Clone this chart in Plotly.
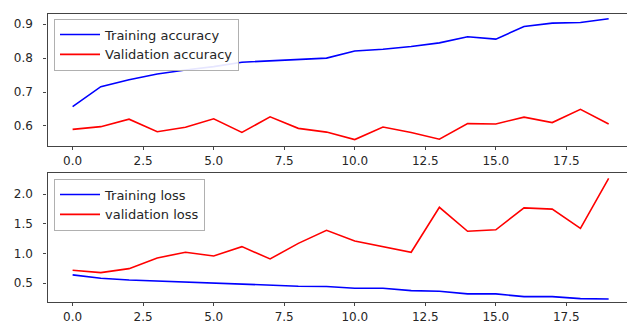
import plotly.graph_objects as go

epochs = list(range(20))
train_acc = [0.657, 0.716, 0.736, 0.753, 0.765, 0.775, 0.788, 0.792, 0.797, 0.800,
             0.821, 0.826, 0.834, 0.845, 0.863, 0.856, 0.893, 0.903, 0.905, 0.916]
val_acc = [0.590, 0.598, 0.620, 0.583, 0.596, 0.621, 0.581, 0.627, 0.593, 0.582,
           0.560, 0.597, 0.581, 0.561, 0.607, 0.606, 0.626, 0.610, 0.649, 0.606]
train_loss = [0.637, 0.581, 0.552, 0.535, 0.513, 0.500, 0.485, 0.456, 0.446, 0.440,
              0.412, 0.412, 0.372, 0.360, 0.316, 0.316, 0.270, 0.270, 0.236, 0.230]
val_loss = [0.716, 0.676, 0.743, 0.924, 1.020, 0.958, 1.115, 0.907, 1.170, 1.390,
            1.210, 1.115, 1.020, 1.780, 1.375, 1.400, 1.770, 1.750, 1.425, 2.270]

W, H = 627, 323
font = dict(family="DejaVu Sans", size=12, color="#262626")
lfont = dict(family="DejaVu Sans", size=13, color="#262626")

fig = go.Figure()
fig.add_trace(go.Scatter(x=epochs, y=train_acc, mode="lines", name="Training accuracy",
                         line=dict(color="#0000ff", width=1.6), xaxis="x", yaxis="y", legend="legend"))
fig.add_trace(go.Scatter(x=epochs, y=val_acc, mode="lines", name="Validation accuracy",
                         line=dict(color="#ff0000", width=1.6), xaxis="x", yaxis="y", legend="legend"))
fig.add_trace(go.Scatter(x=epochs, y=train_loss, mode="lines", name="Training loss",
                         line=dict(color="#0000ff", width=1.6), xaxis="x2", yaxis="y2", legend="legend2"))
fig.add_trace(go.Scatter(x=epochs, y=val_loss, mode="lines", name="validation loss",
                         line=dict(color="#ff0000", width=1.6), xaxis="x2", yaxis="y2", legend="legend2"))

x0 = 47.5 / W
axcommon = dict(showgrid=False, zeroline=False, showline=True, linecolor="#444444", linewidth=1.3,
                ticks="outside", ticklen=3, tickcolor="#444444", tickfont=font,
                automargin=False)
xax = dict(range=[-0.89, 19.65], dtick=2.5, tick0=0, tickformat=".1f", ticklabelstandoff=0,
           mirror=True, **axcommon)
yax = dict(tickformat=".1f", ticklabelstandoff=8, mirror=False, **axcommon)

fig.update_layout(
    width=W, height=H,
    margin=dict(l=0, r=0, t=0, b=0),
    paper_bgcolor="white", plot_bgcolor="white",
    xaxis=dict(domain=[x0, 1.0], anchor="y", **xax),
    yaxis=dict(domain=[1 - 146 / H, 1 - 14 / H], anchor="x", range=[0.541, 0.930], dtick=0.1, **yax),
    xaxis2=dict(domain=[x0, 1.0], anchor="y2", **xax),
    yaxis2=dict(domain=[1 - 302 / H, 1 - 172.7 / H], anchor="x2", range=[0.179, 2.365], dtick=0.5, **yax),
    legend=dict(x=54 / W, y=1 - 18.5 / H, xanchor="left", yanchor="top", bgcolor="rgba(255,255,255,0.9)",
                bordercolor="#b0b0b0", borderwidth=1, font=lfont, tracegroupgap=0, itemwidth=40),
    legend2=dict(x=54 / W, y=1 - 178.5 / H, xanchor="left", yanchor="top", bgcolor="rgba(255,255,255,0.9)",
                 bordercolor="#b0b0b0", borderwidth=1, font=lfont, tracegroupgap=0, itemwidth=40),
    showlegend=True,
)

fig.write_html("out.html", config={"displayModeBar": False},
               post_script="document.body.style.margin='0';document.body.style.overflow='hidden';")
